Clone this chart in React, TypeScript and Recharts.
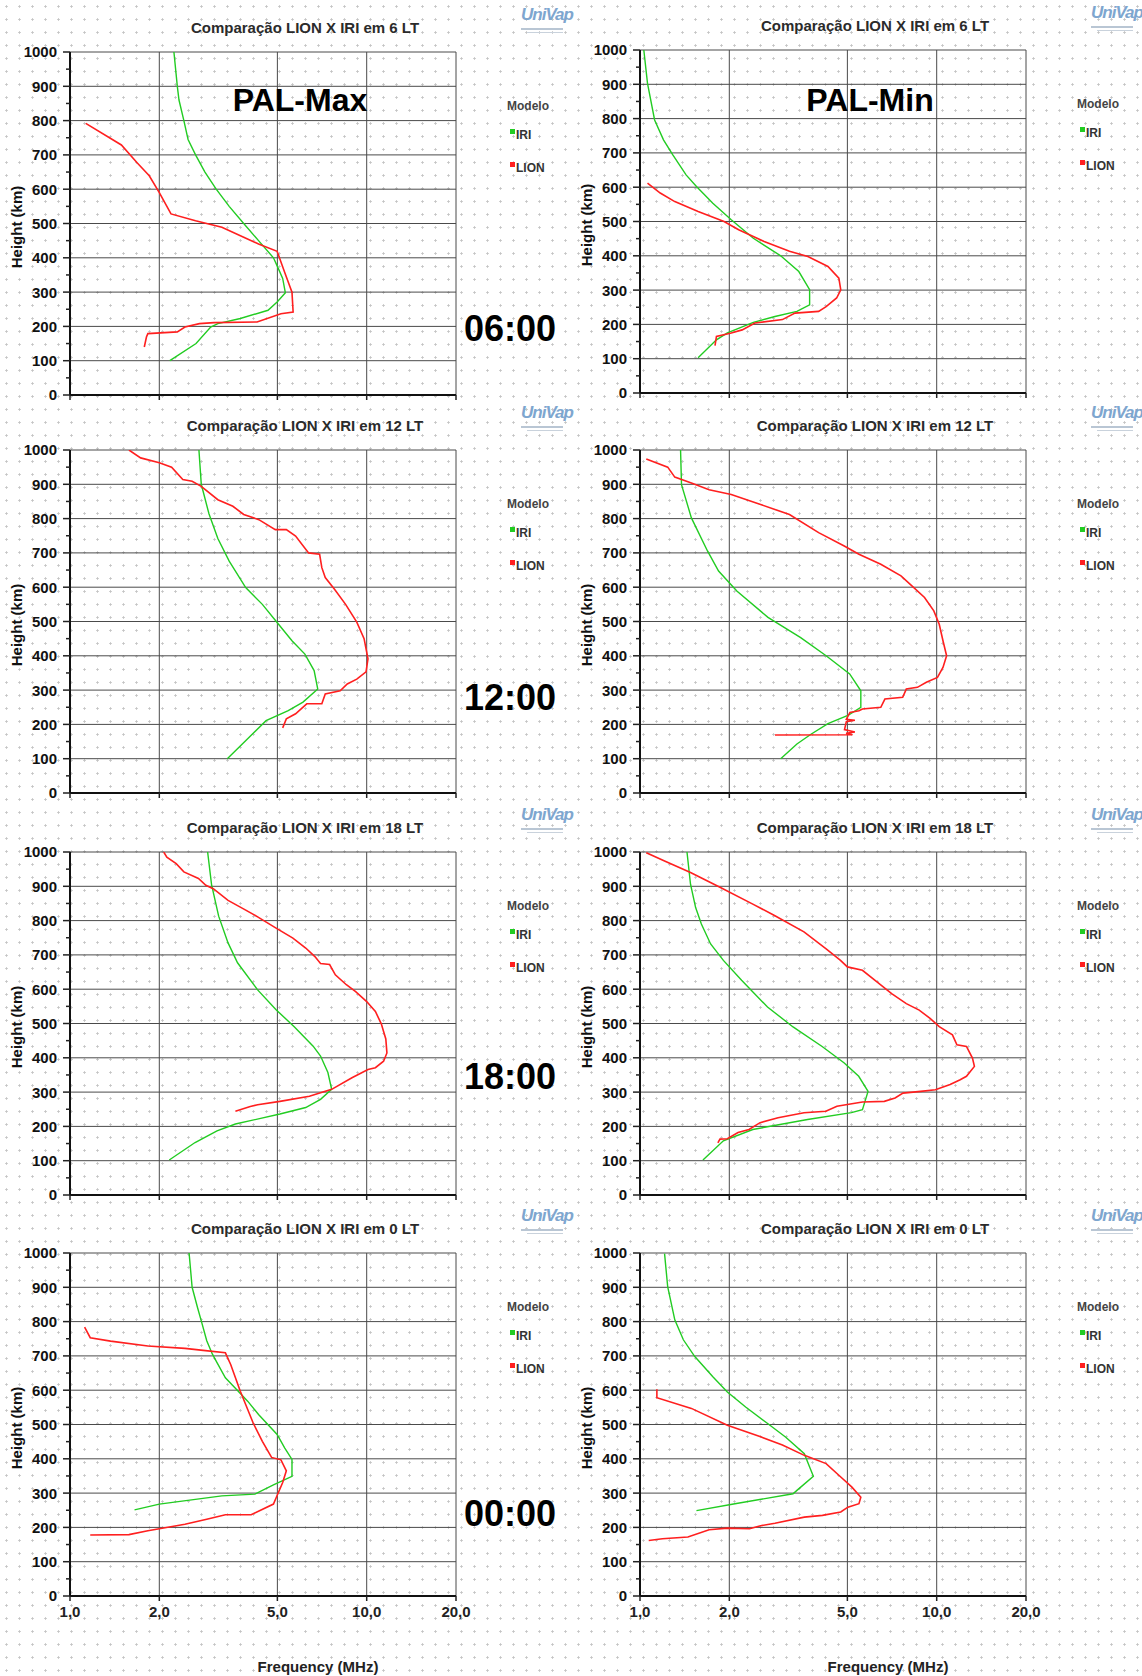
import React from 'react';
import { LineChart, Line, XAxis, YAxis, CartesianGrid } from 'recharts';

// [frequency MHz, height km]
const maxIri06 = [[2.24, 1000], [2.3, 900], [2.33, 860], [2.42, 800], [2.5, 745], [2.65, 700], [2.85, 650], [3.11, 600], [3.44, 550], [3.85, 500], [4.32, 450], [4.85, 400], [5.0, 375], [5.21, 340], [5.32, 298], [5.0, 272], [4.65, 247], [3.75, 223], [3.15, 208], [2.98, 198], [2.66, 150], [2.17, 100]];
const maxLion06 = [[1.13, 792], [1.49, 729], [1.68, 678], [1.85, 639], [2.0, 590], [2.19, 528], [2.65, 508], [3.25, 489], [3.85, 460], [4.32, 440], [4.99, 419], [5.29, 358], [5.6, 300], [5.65, 242], [5.14, 237], [4.27, 213], [3.06, 211], [2.73, 208], [2.44, 198], [2.3, 184], [1.83, 179], [1.81, 169], [1.78, 140]];
const minIri06 = [[1.03, 1000], [1.06, 903], [1.12, 796], [1.2, 738], [1.29, 694], [1.43, 636], [1.55, 602], [1.76, 553], [2.03, 505], [2.41, 451], [2.98, 400], [3.43, 354], [3.73, 301], [3.73, 257], [3.38, 238], [2.85, 223], [2.41, 206], [1.97, 175], [1.81, 155], [1.57, 103]];
const minLion06 = [[1.06, 612], [1.17, 583], [1.31, 558], [1.57, 529], [1.92, 500], [2.15, 476], [2.62, 442], [3.19, 413], [3.68, 398], [4.3, 369], [4.68, 335], [4.75, 301], [4.6, 277], [4.24, 252], [4.0, 238], [3.33, 233], [3.02, 214], [2.44, 204], [2.21, 184], [2.03, 175], [1.81, 165], [1.79, 138]];

const maxIri12 = [[2.72, 1000], [2.77, 900], [2.94, 814], [3.15, 742], [3.44, 676], [3.91, 599], [4.45, 550], [4.99, 497], [5.6, 444], [6.19, 405], [6.65, 357], [6.84, 303], [6.1, 265], [5.44, 240], [4.58, 211], [3.97, 158], [3.39, 100]];
const maxLion12 = [[1.58, 1000], [1.73, 977], [2.0, 963], [2.2, 950], [2.4, 914], [2.58, 909], [2.77, 894], [3.15, 855], [3.54, 836], [3.85, 812], [4.33, 797], [4.92, 768], [5.36, 768], [5.76, 749], [6.37, 700], [6.94, 696], [7.06, 657], [7.25, 628], [7.79, 594], [8.49, 550], [9.26, 498], [9.8, 450], [10.1, 391], [9.95, 353], [9.26, 332], [8.6, 318], [8.14, 298], [7.25, 289], [7.06, 260], [6.28, 260], [5.76, 231], [5.36, 216], [5.21, 190]];
const minIri12 = [[1.37, 1000], [1.38, 899], [1.49, 802], [1.69, 705], [1.84, 647], [2.12, 589], [2.7, 512], [3.48, 453], [4.24, 400], [5.09, 347], [5.55, 298], [5.55, 250], [5.02, 226], [4.3, 202], [3.78, 172], [3.38, 143], [2.98, 100]];
const minLion12 = [[1.05, 974], [1.24, 950], [1.31, 921], [1.49, 904], [1.71, 884], [2.03, 870], [2.55, 841], [3.19, 812], [4.0, 759], [4.88, 720], [5.47, 696], [6.48, 667], [7.58, 633], [8.25, 604], [9.1, 570], [9.78, 531], [10.2, 492], [10.5, 444], [10.8, 400], [10.5, 366], [10.06, 337], [9.23, 323], [8.61, 308], [7.9, 303], [7.68, 279], [6.69, 274], [6.48, 250], [5.62, 245], [5.47, 240], [5.1, 235], [4.96, 215], [5.3, 212], [4.96, 208], [4.89, 185], [5.3, 178], [4.95, 174], [5.2, 170], [2.85, 169]];

const maxIri18 = [[2.91, 1000], [3.0, 905], [3.17, 813], [3.41, 735], [3.67, 677], [4.29, 598], [4.95, 540], [5.71, 490], [6.6, 434], [6.99, 405], [7.4, 357], [7.62, 308], [6.99, 279], [6.23, 255], [5.1, 236], [3.61, 207], [3.13, 187], [2.64, 153], [2.16, 102]];
const maxLion18 = [[2.07, 1000], [2.12, 985], [2.28, 966], [2.42, 942], [2.71, 923], [2.87, 903], [3.04, 893], [3.41, 859], [3.83, 835], [4.29, 811], [4.95, 778], [5.64, 749], [6.23, 720], [6.69, 695], [6.99, 675], [7.5, 672], [7.84, 642], [8.54, 613], [9.18, 593], [10.0, 564], [10.7, 535], [11.2, 499], [11.6, 455], [11.7, 414], [11.4, 390], [10.7, 371], [10.1, 366], [8.92, 342], [7.62, 308], [6.41, 288], [5.1, 273], [4.29, 263], [4.05, 258], [3.61, 244]];
const minIri18 = [[1.44, 1000], [1.48, 906], [1.54, 838], [1.61, 790], [1.73, 732], [1.91, 684], [2.2, 626], [2.69, 548], [3.28, 490], [4.11, 433], [4.88, 385], [5.46, 346], [5.87, 302], [5.62, 249], [5.16, 240], [3.67, 220], [2.4, 191], [1.91, 158], [1.63, 102]];
const minLion18 = [[1.05, 998], [1.21, 974], [1.48, 940], [1.86, 897], [2.4, 848], [2.84, 815], [3.57, 767], [4.23, 718], [4.74, 684], [5.0, 665], [5.62, 655], [6.29, 621], [7.05, 587], [7.9, 558], [8.73, 539], [9.5, 515], [10.2, 491], [11.3, 467], [11.7, 438], [12.6, 433], [13.2, 399], [13.4, 375], [12.6, 346], [12.0, 336], [11.1, 322], [9.9, 307], [8.83, 302], [7.7, 297], [7.24, 283], [6.66, 273], [5.62, 271], [5.0, 264], [4.61, 259], [4.23, 244], [3.57, 240], [2.92, 225], [2.54, 211], [2.33, 191], [2.14, 182], [1.97, 164], [1.86, 163], [1.83, 152]];

const maxIri00 = [[2.52, 1000], [2.58, 900], [2.69, 841], [2.77, 802], [2.89, 744], [3.02, 705], [3.15, 676], [3.34, 636], [3.69, 597], [3.97, 568], [4.32, 529], [4.99, 471], [5.29, 432], [5.6, 398], [5.6, 349], [4.85, 324], [4.2, 297], [3.25, 292], [2.0, 268], [1.65, 251]];
const maxLion00 = [[1.12, 784], [1.17, 753], [1.37, 743], [1.83, 729], [2.44, 722], [2.81, 716], [3.34, 709], [3.48, 675], [3.75, 597], [4.14, 505], [4.45, 451], [4.78, 404], [5.14, 397], [5.36, 365], [5.21, 331], [4.99, 293], [4.85, 268], [4.08, 237], [3.34, 237], [2.89, 224], [2.44, 209], [1.83, 190], [1.58, 179], [1.17, 178]];
const minIri00 = [[1.21, 998], [1.24, 901], [1.31, 805], [1.4, 747], [1.53, 698], [1.76, 639], [1.97, 595], [2.27, 551], [2.7, 502], [3.1, 463], [3.58, 415], [3.73, 376], [3.84, 349], [3.38, 308], [3.28, 298], [2.09, 269], [1.55, 249]];
const minLion00 = [[1.14, 603], [1.14, 578], [1.49, 547], [1.97, 498], [2.55, 464], [3.02, 440], [3.58, 410], [4.24, 386], [4.75, 347], [5.17, 318], [5.55, 288], [5.47, 269], [5.02, 259], [4.75, 245], [4.12, 235], [3.58, 230], [2.85, 212], [2.55, 205], [2.34, 196], [1.97, 198], [1.71, 193], [1.45, 172], [1.19, 167], [1.07, 162]];

const titles = ['Comparação LION X IRI em 6 LT', 'Comparação LION X IRI em 12 LT', 'Comparação LION X IRI em 18 LT', 'Comparação LION X IRI em 0 LT'];
const hours = ['06:00', '12:00', '18:00', '00:00'];
const columnLabels = ['PAL-Max', 'PAL-Min'];
const legendItems = [{ name: 'IRI', color: '#22cc22' }, { name: 'LION', color: '#ff1f1f' }];

const freqTicks = [1, 2, 5, 10, 20];
const heightTicks = [0, 50, 100, 150, 200, 250, 300, 350, 400, 450, 500, 550, 600, 650, 700, 750, 800, 850, 900, 950, 1000];
const gridHeights = [0, 100, 200, 300, 400, 500, 600, 700, 800, 900, 1000];

const FONT = '"Liberation Sans", Arial, sans-serif';
const PLOT_W = 386;
const PLOT_H = 343;
const COL_X = [70, 640];
const ROW_Y = [52, 450, 852, 1253];

const toPoints = (pairs: number[][]) => pairs.map(([f, h]) => ({ f, h }));

const panels = [
  [maxIri06, maxLion06, minIri06, minLion06],
  [maxIri12, maxLion12, minIri12, minLion12],
  [maxIri18, maxLion18, minIri18, minLion18],
  [maxIri00, maxLion00, minIri00, minLion00],
];

const fmtFreq = (v: number) => v.toFixed(1).replace('.', ',');

const HeightTick = (props: any) => {
  const { x, y, payload } = props;
  const v = payload.value;
  const major = v % 100 === 0;
  return (
    <g>
      <line x1={x - (major ? 7 : 4)} x2={x} y1={y} y2={y} stroke="#222" strokeWidth={1.5} />
      {major && (
        <text x={x - 13} y={y} dy="0.36em" textAnchor="end" fontFamily={FONT} fontSize={15} fontWeight="bold" fill="#111">
          {v}
        </text>
      )}
    </g>
  );
};

const FreqTick = (props: any) => {
  const { x, y, payload, show } = props;
  if (!show) return <g />;
  return (
    <text x={x} y={y} dy="0.75em" textAnchor="middle" fontFamily={FONT} fontSize={15} fontWeight="bold" fill="#222">
      {fmtFreq(payload.value)}
    </text>
  );
};

const Panel = ({ left, top, iri, lion, bottomRow }: any) => (
  <div style={{ position: 'absolute', left: left - 60, top: top - 10 }}>
    <LineChart width={PLOT_W + 84} height={PLOT_H + 40} margin={{ top: 10, right: 24, left: 0, bottom: 0 }}>
      <CartesianGrid stroke="#4a4a4a" strokeWidth={1} horizontalValues={gridHeights} verticalValues={freqTicks} />
      <XAxis
        type="number"
        dataKey="f"
        scale="log"
        domain={[1, 20]}
        allowDataOverflow
        ticks={freqTicks}
        interval={0}
        height={30}
        tickSize={5}
        tickMargin={5}
        tickLine={{ stroke: '#222', strokeWidth: 1.5 }}
        axisLine={{ stroke: '#111', strokeWidth: 2 }}
        tick={(p: any) => <FreqTick {...p} show={bottomRow} />}
      />
      <YAxis
        type="number"
        dataKey="h"
        domain={[0, 1000]}
        allowDataOverflow
        ticks={heightTicks}
        interval={0}
        width={60}
        tickSize={0}
        tickMargin={0}
        tickLine={false}
        axisLine={{ stroke: '#111', strokeWidth: 2 }}
        tick={(p: any) => <HeightTick {...p} />}
      />
      <Line data={toPoints(iri)} dataKey="h" stroke="#22cc22" strokeWidth={1.4} dot={false} isAnimationActive={false} />
      <Line data={toPoints(lion)} dataKey="h" stroke="#ff1f1f" strokeWidth={1.6} dot={false} isAnimationActive={false} />
    </LineChart>
  </div>
);

const Legend = ({ left, top }: any) => (
  <div style={{ position: 'absolute', left, top, fontFamily: FONT, fontSize: 12, fontWeight: 'bold', color: '#444' }}>
    <div style={{ position: 'absolute', left: 0, top: -7, whiteSpace: 'nowrap' }}>Modelo</div>
    {legendItems.map((it, i) => (
      <div key={it.name} style={{ position: 'absolute', left: 3, top: 22 + i * 33, whiteSpace: 'nowrap', color: '#333' }}>
        <span style={{ display: 'inline-block', width: 5, height: 5, background: it.color, verticalAlign: 'top', marginTop: 1, marginRight: 1 }} />
        {it.name}
      </div>
    ))}
  </div>
);

const Logo = ({ left, top }: any) => (
  <div style={{ position: 'absolute', left, top, width: 46, height: 32, fontFamily: FONT }}>
    <div style={{ fontSize: 17, fontWeight: 'bold', fontStyle: 'italic', color: '#7ea6cf', letterSpacing: -1, lineHeight: '20px' }}>UniVap</div>
    <div style={{ height: 2, background: '#b9c6d4', marginTop: 3, width: 42 }} />
    <div style={{ height: 1, background: '#c9d2dc', marginTop: 2, width: 36, marginLeft: 6 }} />
  </div>
);

export default function App() {
  return (
    <div
      style={{
        position: 'absolute',
        left: 0,
        top: 0,
        width: 1142,
        height: 1676,
        overflow: 'hidden',
        background: '#fff',
        backgroundImage: 'radial-gradient(circle, #c4c4c4 0.9px, transparent 1.4px)',
        backgroundSize: '13px 13px',
        fontFamily: FONT,
      }}
    >
      {panels.map((row, r) =>
        [0, 1].map((c) => {
          const left = COL_X[c];
          const top = ROW_Y[r] - (r === 0 && c === 1 ? 2 : 0);
          const titleX = left + PLOT_W / 2 + 42;
          return (
            <React.Fragment key={`${r}-${c}`}>
              <div style={{ position: 'absolute', left: titleX, top: top - 25, transform: 'translate(-50%, -50%)', fontSize: 15, fontWeight: 'bold', color: '#2b2b2b', whiteSpace: 'nowrap' }}>
                {titles[r]}
              </div>
              <div style={{ position: 'absolute', left: left - 54, top: top + PLOT_H / 2 + 3, transform: 'translate(-50%, -50%) rotate(-90deg)', fontSize: 15, fontWeight: 'bold', color: '#111', whiteSpace: 'nowrap' }}>
                Height (km)
              </div>
              <Panel left={left} top={top} iri={row[c * 2]} lion={row[c * 2 + 1]} bottomRow={r === 3} />
              <Legend left={left + 437} top={top + 54} />
              <Logo left={left + 451} top={top - 47} />
            </React.Fragment>
          );
        })
      )}
      {columnLabels.map((t, c) => (
        <div key={t} style={{ position: 'absolute', left: COL_X[c] + 230, top: 100, transform: 'translate(-50%, -50%)', fontSize: 32, fontWeight: 'bold', color: '#000', whiteSpace: 'nowrap' }}>
          {t}
        </div>
      ))}
      {hours.map((h, r) => (
        <div key={h} style={{ position: 'absolute', left: 510, top: [329, 698, 1077, 1514][r], transform: 'translate(-50%, -50%)', fontSize: 36, fontWeight: 'bold', color: '#000', whiteSpace: 'nowrap' }}>
          {h}
        </div>
      ))}
      {[0, 1].map((c) => (
        <div key={c} style={{ position: 'absolute', left: COL_X[c] + 248, top: 1666, transform: 'translate(-50%, -50%)', fontSize: 15, fontWeight: 'bold', color: '#222', whiteSpace: 'nowrap' }}>
          Frequency (MHz)
        </div>
      ))}
    </div>
  );
}
